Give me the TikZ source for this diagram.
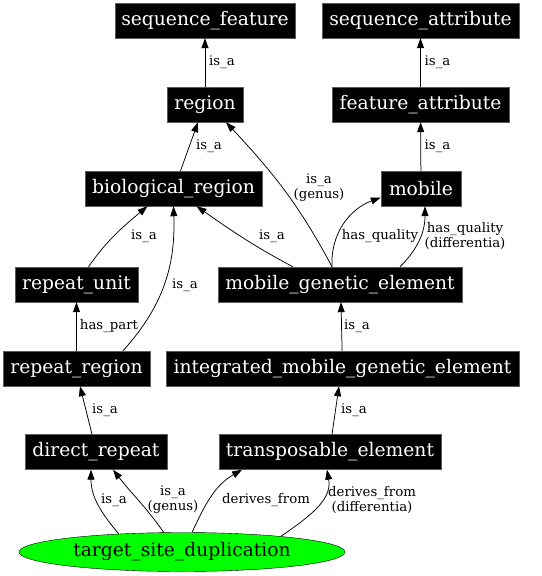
\documentclass[tikz,border=0pt]{standalone}
\usepackage{fontspec}
\setmainfont{DejaVu Serif}
\usepackage{tikz}
\usetikzlibrary{arrows.meta,shapes.geometric}
\definecolor{sofaink}{HTML}{000000}
\definecolor{sofarim}{HTML}{5A5A5A}
\definecolor{sofagreen}{HTML}{00FF00}

\begin{document}
\begin{tikzpicture}[
  x=1bp, y=1bp,
  term/.style={fill=sofaink, draw=sofarim, text=white, inner sep=0pt, minimum height=35bp, font=\fontsize{18.7bp}{20bp}\selectfont},
  focus/.style={ellipse, fill=sofagreen, draw=sofaink, inner sep=0pt, minimum width=326bp, minimum height=39bp, font=\fontsize{18.7bp}{20bp}\selectfont},
  arr/.style={-{Triangle[length=10bp,width=7bp]}, draw=sofaink, line width=0.75bp},
  lbl/.style={font=\fontsize{13.3bp}{15bp}\selectfont, align=center, inner sep=0pt}
]
\useasboundingbox (0,0) rectangle (542,-576);

% terms, rank by rank
\node[term, minimum width=180bp] (sf) at (205,-20.5) {sequence\_feature};
\node[term, minimum width=197bp] (sa) at (420.5,-20.5) {sequence\_attribute};
\node[term, minimum width=76bp] (rg) at (205,-104.5) {region};
\node[term, minimum width=177bp] (fa) at (420.5,-104.5) {feature\_attribute};
\node[term, minimum width=177bp] (br) at (173.5,-188.5) {biological\_region};
\node[term, minimum width=80bp] (mb) at (421,-188.5) {mobile};
\node[term, minimum width=123bp] (ru) at (76.5,-284.5) {repeat\_unit};
\node[term, minimum width=244bp] (mge) at (340,-284.5) {mobile\_genetic\_element};
\node[term, minimum width=147bp] (rr) at (76.5,-368.5) {repeat\_region};
\node[term, minimum width=353bp] (ime) at (342.5,-368.5) {integrated\_mobile\_genetic\_element};
\node[term, minimum width=142bp] (dr) at (96,-452) {direct\_repeat};
\node[term, minimum width=222bp] (te) at (330,-452) {transposable\_element};
\node[focus] (tsd) at (182,-552) {target\_site\_duplication};

% is_a / relation edges
\draw[arr] (rg) -- (sf);
\node[lbl] (l1) at (222,-62) {is\_a};
\draw[arr] (fa) -- (sa);
\node[lbl] (l2) at (437.5,-62) {is\_a};
\draw[arr] ([xshift=7bp]br.north) -- ([xshift=-7bp]rg.south);
\node[lbl] (l3) at (209,-146) {is\_a};
\draw[arr] (mb) -- (fa);
\node[lbl] (l4) at (437.5,-146) {is\_a};
\draw[arr] ([xshift=-8bp]mge.north) to[out=118,in=-47] ([xshift=21bp]rg.south);
\node[lbl] (l5) at (319,-188) {is\_a\\(genus)};
\draw[arr] ([xshift=-47bp]mge.north) to[out=152,in=-35] ([xshift=23bp]br.south);
\node[lbl] (l6) at (272,-236) {is\_a};
\draw[arr] ([xshift=-8bp]mge.north) to[out=93,in=200] ([yshift=-9bp]mb.west);
\node[lbl] (l7) at (380,-236) {has\_quality};
\draw[arr] ([xshift=60bp]mge.north) to[out=45,in=-90] ([xshift=4bp]mb.south);
\node[lbl] (l8) at (465,-236) {has\_quality\\(differentia)};
\draw[arr] ([xshift=12bp]ru.north) to[out=55,in=-140] ([xshift=-26bp]br.south);
\node[lbl] (l9) at (144,-236) {is\_a};
\draw[arr] ([xshift=46.5bp]rr.north) to[out=48,in=-88] (br.south);
\node[lbl] (l10) at (185,-285) {is\_a};
\draw[arr] (rr) -- (ru);
\node[lbl] (l11) at (109,-326) {has\_part};
\draw[arr] (ime) -- ([xshift=1bp]mge.south);
\node[lbl] (l12) at (357,-326) {is\_a};
\draw[arr] ([xshift=-4bp]dr.north) -- ([xshift=3.5bp]rr.south);
\node[lbl] (l13) at (105,-410) {is\_a};
\draw[arr] ([xshift=2bp]te.north) -- ([xshift=-3.5bp]ime.south);
\node[lbl] (l14) at (354,-410) {is\_a};
\draw[arr] (tsd.164.5) to[out=130,in=-90] ([xshift=-5bp]dr.south);
\node[lbl] (l15) at (114,-500) {is\_a};
\draw[arr] (tsd.133.7) to[out=125,in=-52] ([xshift=17bp]dr.south);
\node[lbl] (l16) at (173,-500) {is\_a\\(genus)};
\draw[arr] (tsd.63.4) to[out=65,in=210] ([xshift=-88bp]te.south);
\node[lbl] (l17) at (266,-500) {derives\_from};
\draw[arr] (tsd.9.3) to[out=35,in=-80] ([xshift=-3bp]te.south);
\node[lbl] (l18) at (372,-500) {derives\_from\\(differentia)};
\end{tikzpicture}
\end{document}
